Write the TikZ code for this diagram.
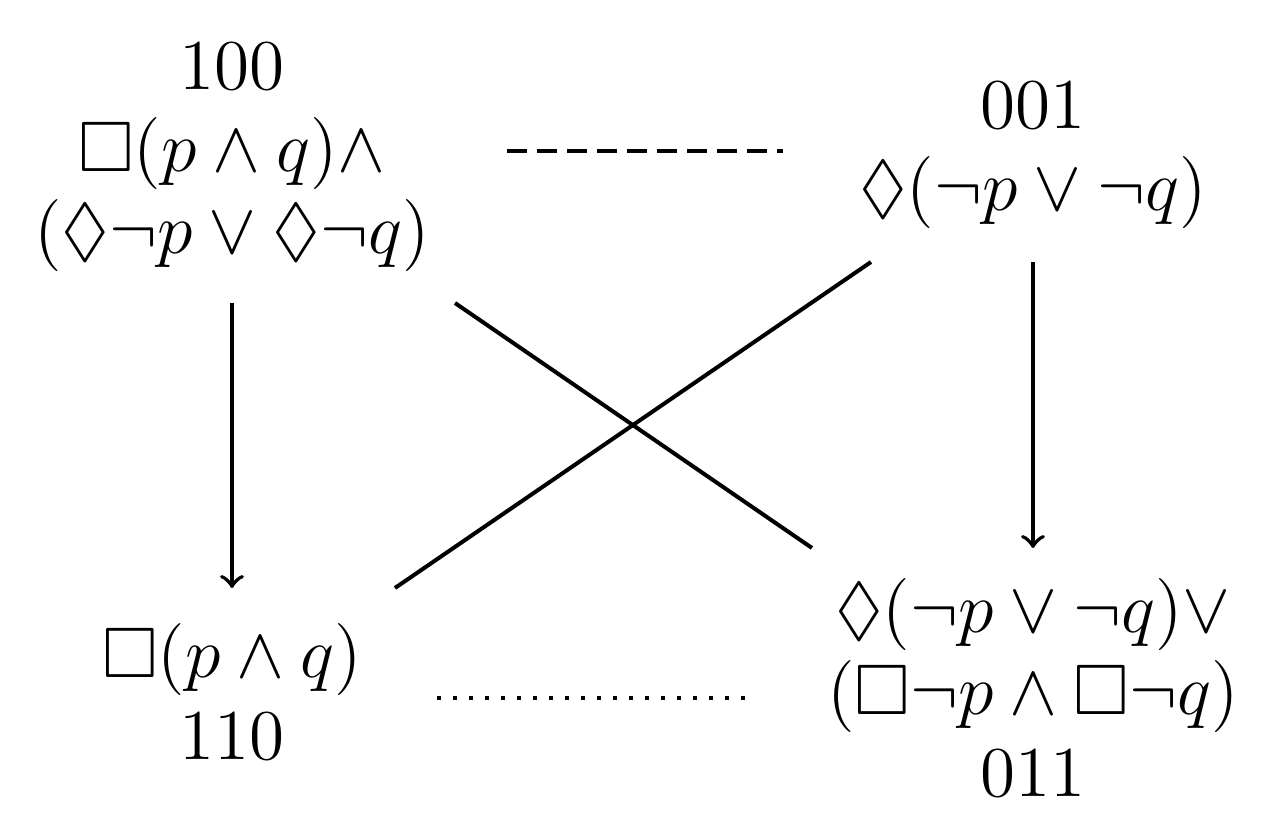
\documentclass[tikz,border=0pt]{standalone}
\usepackage{amssymb}
\usetikzlibrary{calc}
\begin{document}
\begin{tikzpicture}[x=0.2pt,y=-0.2pt,
  lbl/.style={align=center,inner sep=0pt,outer sep=0pt,font=\fontsize{14.3}{16.4}\selectfont},
  conn/.style={line width=0.8pt},
  dashline/.style={conn,dash pattern=on 4pt off 2pt},
  dotline/.style={conn,dash pattern=on 0.8pt off 2.4pt}]
\useasboundingbox (0,0) rectangle (1270,827);
\node[lbl] (a) at (232,157) {100\\ $\Box(p\wedge q)\wedge$\\ $(\Diamond\neg p\vee\Diamond\neg q)$};
\node[lbl] (b) at (1033,155) {001\\ $\Diamond(\neg p\vee\neg q)$};
\node[lbl] (c) at (232,692) {$\Box(p\wedge q)$\\ 110};
\node[lbl] (d) at (1033,688) {$\Diamond(\neg p\vee\neg q)\vee$\\ $(\Box\neg p\wedge\Box\neg q)$\\ 011};
\draw[conn,->] ($(a)+(0,146)$) -- ($(c)+(0,-104)$);
\draw[conn,->] ($(b)+(0,107)$) -- ($(d)+(0,-140)$);
\draw[conn] ($(a)+(223,146)$) -- ($(d)+(-221,-140)$);
\draw[conn] ($(b)+(-162,107)$) -- ($(c)+(163,-104)$);
\draw[dashline] ($(a)+(275,-6)$) -- ($(b)+(-250,-4)$);
\draw[dotline] ($(c)+(205,6)$) -- ($(d)+(-281,10)$);
\end{tikzpicture}
\end{document}
